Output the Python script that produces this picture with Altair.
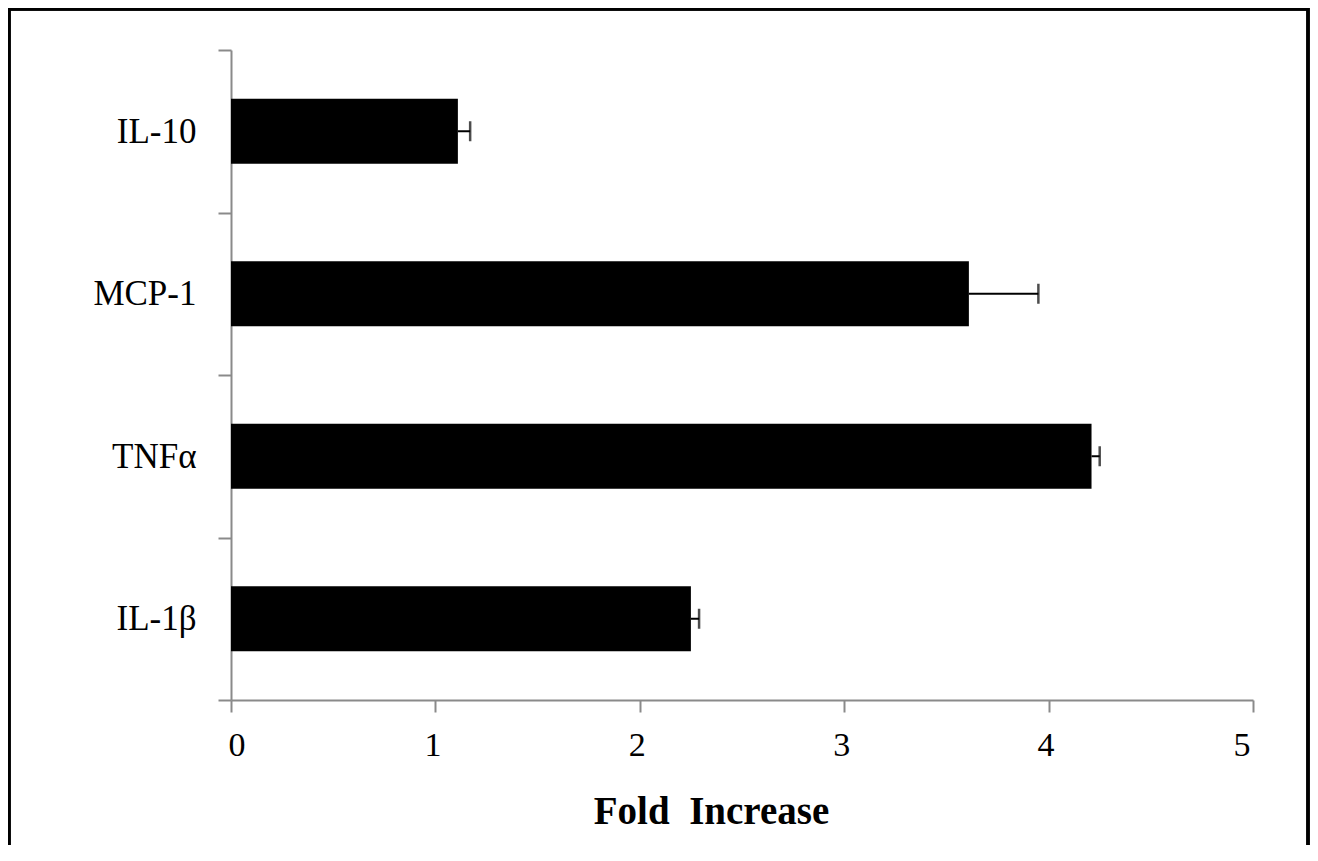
import altair as alt
import pandas as pd

categories = ["IL-10", "MCP-1", "TNFα", "IL-1β"]
fold_increase = [1.11, 3.61, 4.21, 2.25]
error = [0.06, 0.34, 0.04, 0.04]
x_ticks = [0, 1, 2, 3, 4, 5]

df = pd.DataFrame({"cat": categories, "value": fold_increase, "err": error})
df["upper"] = df["value"] + df["err"]

FONT = "Liberation Serif"
AXIS_GRAY = "#8a8a8a"

y_enc = alt.Y(
    "cat:N",
    sort=categories,
    scale=alt.Scale(paddingInner=0, paddingOuter=0),
    axis=alt.Axis(
        title=None,
        tickBand="extent",
        tickSize=13,
        tickColor=AXIS_GRAY,
        tickWidth=2,
        domainColor=AXIS_GRAY,
        domainWidth=2,
        labelFont=FONT,
        labelFontSize=35,
        labelColor="black",
        labelPadding=22,
        grid=False,
    ),
)

x_scale = alt.Scale(domain=[0, 5], nice=False, zero=True)

bars = alt.Chart(df).mark_bar(color="black", size=65).encode(
    x=alt.X(
        "value:Q",
        scale=x_scale,
        axis=alt.Axis(
            values=x_ticks,
            format="d",
            title="Fold\u00a0 Increase",
            titleFont=FONT,
            titleFontSize=39,
            titleFontWeight="bold",
            titleColor="black",
            titleX=480,
            titleY=123,
            titleAlign="center",
            titleBaseline="alphabetic",
            tickSize=12,
            tickColor=AXIS_GRAY,
            tickWidth=2,
            domainColor=AXIS_GRAY,
            domainWidth=2,
            labelFont=FONT,
            labelFontSize=34,
            labelColor="black",
            labelPadding=16,
            labelOffset=-3,
            grid=False,
        ),
    ),
    y=y_enc,
)

err_line = alt.Chart(df).mark_rule(color="black", strokeWidth=2).encode(
    x=alt.X("value:Q", scale=x_scale),
    x2="upper:Q",
    y=alt.Y("cat:N", sort=categories),
)

err_cap = alt.Chart(df).mark_tick(color="black", thickness=2.5, size=20, orient="vertical").encode(
    x=alt.X("upper:Q", scale=x_scale),
    y=alt.Y("cat:N", sort=categories),
)

frame = alt.Chart(df).mark_rect(
    fill=None, stroke="black", strokeWidth=3
).encode(
    x=alt.value(-222),
    x2=alt.value(1077),
    y=alt.value(-41),
    y2=alt.value(830),
)

chart = alt.layer(bars, err_line, err_cap, frame).properties(
    width=1022,
    height=650,
    padding={"left": 223, "top": 42, "right": 57, "bottom": 145},
    autosize=alt.AutoSizeParams(type="none"),
    background="white",
).configure_view(strokeWidth=0, strokeOpacity=0)

chart.save("out.html", embed_options={"renderer": "svg", "actions": False})
